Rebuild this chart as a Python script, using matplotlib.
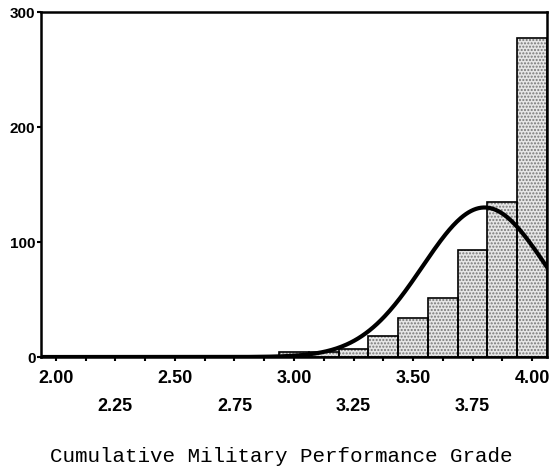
import matplotlib
matplotlib.use('Agg')  # no display
import matplotlib.pyplot as plt
import numpy as np

# histogram bins (centres, width 0.125) and counts
bin_centres = [2.0, 2.125, 2.25, 2.375, 2.5, 2.625, 2.75, 2.875,
               3.0, 3.125, 3.25, 3.375, 3.5, 3.625, 3.75, 3.875, 4.0]
counts = [1, 1, 0, 0, 0, 0, 1, 1,
          4, 4, 7, 18, 34, 51, 93, 135, 277]
bin_width = 0.125

# normal curve parameters (fitted curve drawn by the stats package)
curve_mean = 3.80
curve_sd = 0.26
curve_n = 678

top_row = ['2.00', '2.50', '3.00', '3.50', '4.00']
bottom_row = ['2.25', '2.75', '3.25', '3.75']
y_ticks = [0, 100, 200, 300]

fig = plt.figure(figsize=(5.49, 4.70), dpi=100)
ax = fig.add_axes([0.0747, 0.2404, 0.9217, 0.734])

#Stippled bars: hatch layer first, then black outlines
ax.bar(bin_centres, counts, width=bin_width, color='#e6e6e6',
       edgecolor='#777777', hatch='.....', linewidth=0)
ax.bar(bin_centres, counts, width=bin_width, fill=False,
       edgecolor='black', linewidth=1.2)

#Normal curve scaled to counts
xs = np.linspace(bin_centres[0] - bin_width / 2, bin_centres[-1] + bin_width / 2, 400)
ys = curve_n * bin_width / (curve_sd * np.sqrt(2 * np.pi)) * \
    np.exp(-0.5 * ((xs - curve_mean) / curve_sd) ** 2)
ax.plot(xs, ys, color='black', linewidth=3)

ax.set_xlim(bin_centres[0] - bin_width / 2, bin_centres[-1] + bin_width / 2)
ax.set_ylim(0, 300)

for side in ['left', 'right', 'top', 'bottom']:
    ax.spines[side].set_linewidth(1.8)

tick_font = ['Liberation Sans Narrow', 'Liberation Sans', 'DejaVu Sans']

#x ticks: small marks at every bin, labels staggered on two rows
xlabels = []
for c in bin_centres:
    s = f'{c:.2f}'
    if s in top_row:
        xlabels.append(s)
    elif s in bottom_row:
        xlabels.append('\n' + s)
    else:
        xlabels.append('')
ax.set_xticks(bin_centres)
ax.set_xticklabels(xlabels, fontsize=13, fontweight='bold', family=tick_font,
                   linespacing=1.85)
ax.tick_params(axis='x', length=3, width=1.5, pad=6)

ax.set_yticks(y_ticks)
ax.set_yticklabels([str(v) for v in y_ticks], fontsize=11,
                   fontweight='bold', family=tick_font)
ax.tick_params(axis='y', length=3, width=1.5, pad=1)

fig.text(0.512, 1 - 456 / 470, 'Cumulative Military Performance Grade',
         ha='center', va='center', fontsize=15, family='Liberation Mono')

plt.savefig('out.png', dpi=100)
plt.close()
